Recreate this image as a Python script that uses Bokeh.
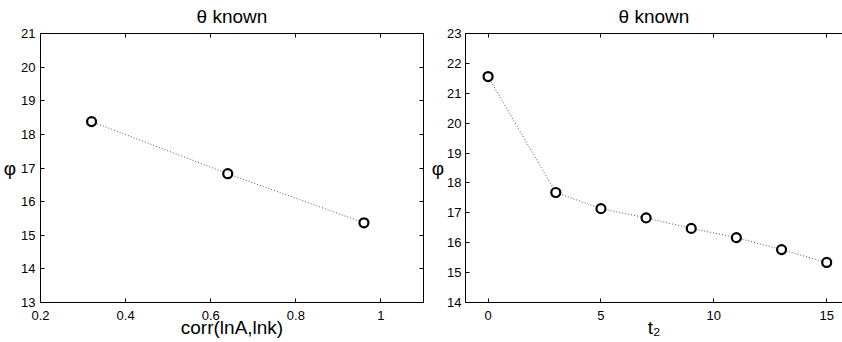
from bokeh.plotting import figure
from bokeh.layouts import row
from bokeh.models import LinearAxis, FixedTicker, Range1d, CustomLabelingPolicy
from bokeh.embed import file_html
from bokeh.resources import INLINE

# ---- data ----
corr = [0.32, 0.64, 0.96]
phi_corr = [18.38, 16.83, 15.37]

t2 = [0, 3, 5, 7, 9, 11, 13, 15]
phi_t2 = [21.56, 17.68, 17.14, 16.83, 16.48, 16.17, 15.77, 15.34]

corr_ticks = [0.2, 0.4, 0.6, 0.8, 1.0]
corr_tick_labels = ["0.2", "0.4", "0.6", "0.8", "1"]
phi1_ticks = [13, 14, 15, 16, 17, 18, 19, 20, 21]
t2_ticks = [0, 5, 10, 15]
t2_tick_labels = ["0", "5", "10", "15"]
phi2_ticks = [14, 15, 16, 17, 18, 19, 20, 21, 22, 23]

title_text = "θ known"
ylabel = "φ"
xlabel1 = "corr(lnA,lnk)"
xlabel2 = "t₂"

FONT = "Liberation Sans"


def style_axis(ax, show_labels=True):
    ax.axis_line_color = "black"
    ax.axis_line_width = 1
    ax.major_tick_in = 4
    ax.major_tick_out = 0
    ax.major_tick_line_color = "black"
    ax.minor_tick_line_color = None
    ax.major_label_text_font = FONT
    ax.major_label_text_color = "black"
    ax.axis_label_text_font = FONT
    ax.axis_label_text_font_style = "normal"
    ax.axis_label_text_color = "black"
    ax.axis_label_text_font_size = "19px"
    if show_labels:
        ax.major_label_text_font_size = "13px"
    else:
        # tick marks only (box-style axis), no tick labels drawn
        ax.major_label_text_font_size = "2px"
        ax.major_label_policy = CustomLabelingPolicy(code="return []")
        ax.major_label_standoff = 0


def make_fig(frame_w, xr, yr, xticks, xlabels, yticks, xlabel, right_axis,
             ytick_standoff, ylabel_standoff):
    p = figure(frame_width=frame_w, frame_height=269,
               x_range=Range1d(*xr), y_range=Range1d(*yr),
               output_backend="svg", toolbar_location=None,
               min_border_left=0, min_border_right=0,
               min_border_top=0, min_border_bottom=0)
    p.outline_line_color = None
    p.grid.visible = False
    p.background_fill_color = "white"
    p.border_fill_color = "white"

    p.title.text = title_text
    p.title.align = "center"
    p.title.text_font = FONT
    p.title.text_font_style = "normal"
    p.title.text_font_size = "19px"
    p.title.text_color = "black"
    p.title.standoff = 6

    xax = p.xaxis[0]
    xax.ticker = FixedTicker(ticks=xticks)
    xax.major_label_overrides = {t: l for t, l in zip(xticks, xlabels)}
    xax.axis_label = xlabel
    style_axis(xax)
    xax.major_label_standoff = 8
    xax.axis_label_standoff = -6

    yax = p.yaxis[0]
    yax.ticker = FixedTicker(ticks=yticks)
    yax.axis_label = ylabel
    yax.axis_label_orientation = "horizontal"
    style_axis(yax)
    yax.major_label_standoff = ytick_standoff
    yax.axis_label_standoff = ylabel_standoff

    top = LinearAxis(ticker=FixedTicker(ticks=xticks))
    style_axis(top, show_labels=False)
    p.add_layout(top, "above")
    if right_axis:
        rt = LinearAxis(ticker=FixedTicker(ticks=yticks))
        style_axis(rt, show_labels=False)
        p.add_layout(rt, "right")
    return p


p1 = make_fig(383, (0.2, 1.1), (13, 21), corr_ticks, corr_tick_labels, phi1_ticks,
              xlabel1, True, 5, 2)
p1.line(corr, phi_corr, line_color="#555555", line_width=1, line_dash="1 2")
p1.scatter(corr, phi_corr, marker="circle", size=9, fill_color="white",
           line_color="black", line_width=2.2)

p2 = make_fig(377, (-1, 15.7), (14, 23), t2_ticks, t2_tick_labels, phi2_ticks,
              xlabel2, False, 4, 0)
p2.line(t2, phi_t2, line_color="#555555", line_width=1, line_dash="1 2")
p2.scatter(t2, phi_t2, marker="circle", size=9, fill_color="white",
           line_color="black", line_width=2.2)

layout = row(p1, p2, spacing=0)
open("out.html", "w").write(file_html(layout, INLINE))
